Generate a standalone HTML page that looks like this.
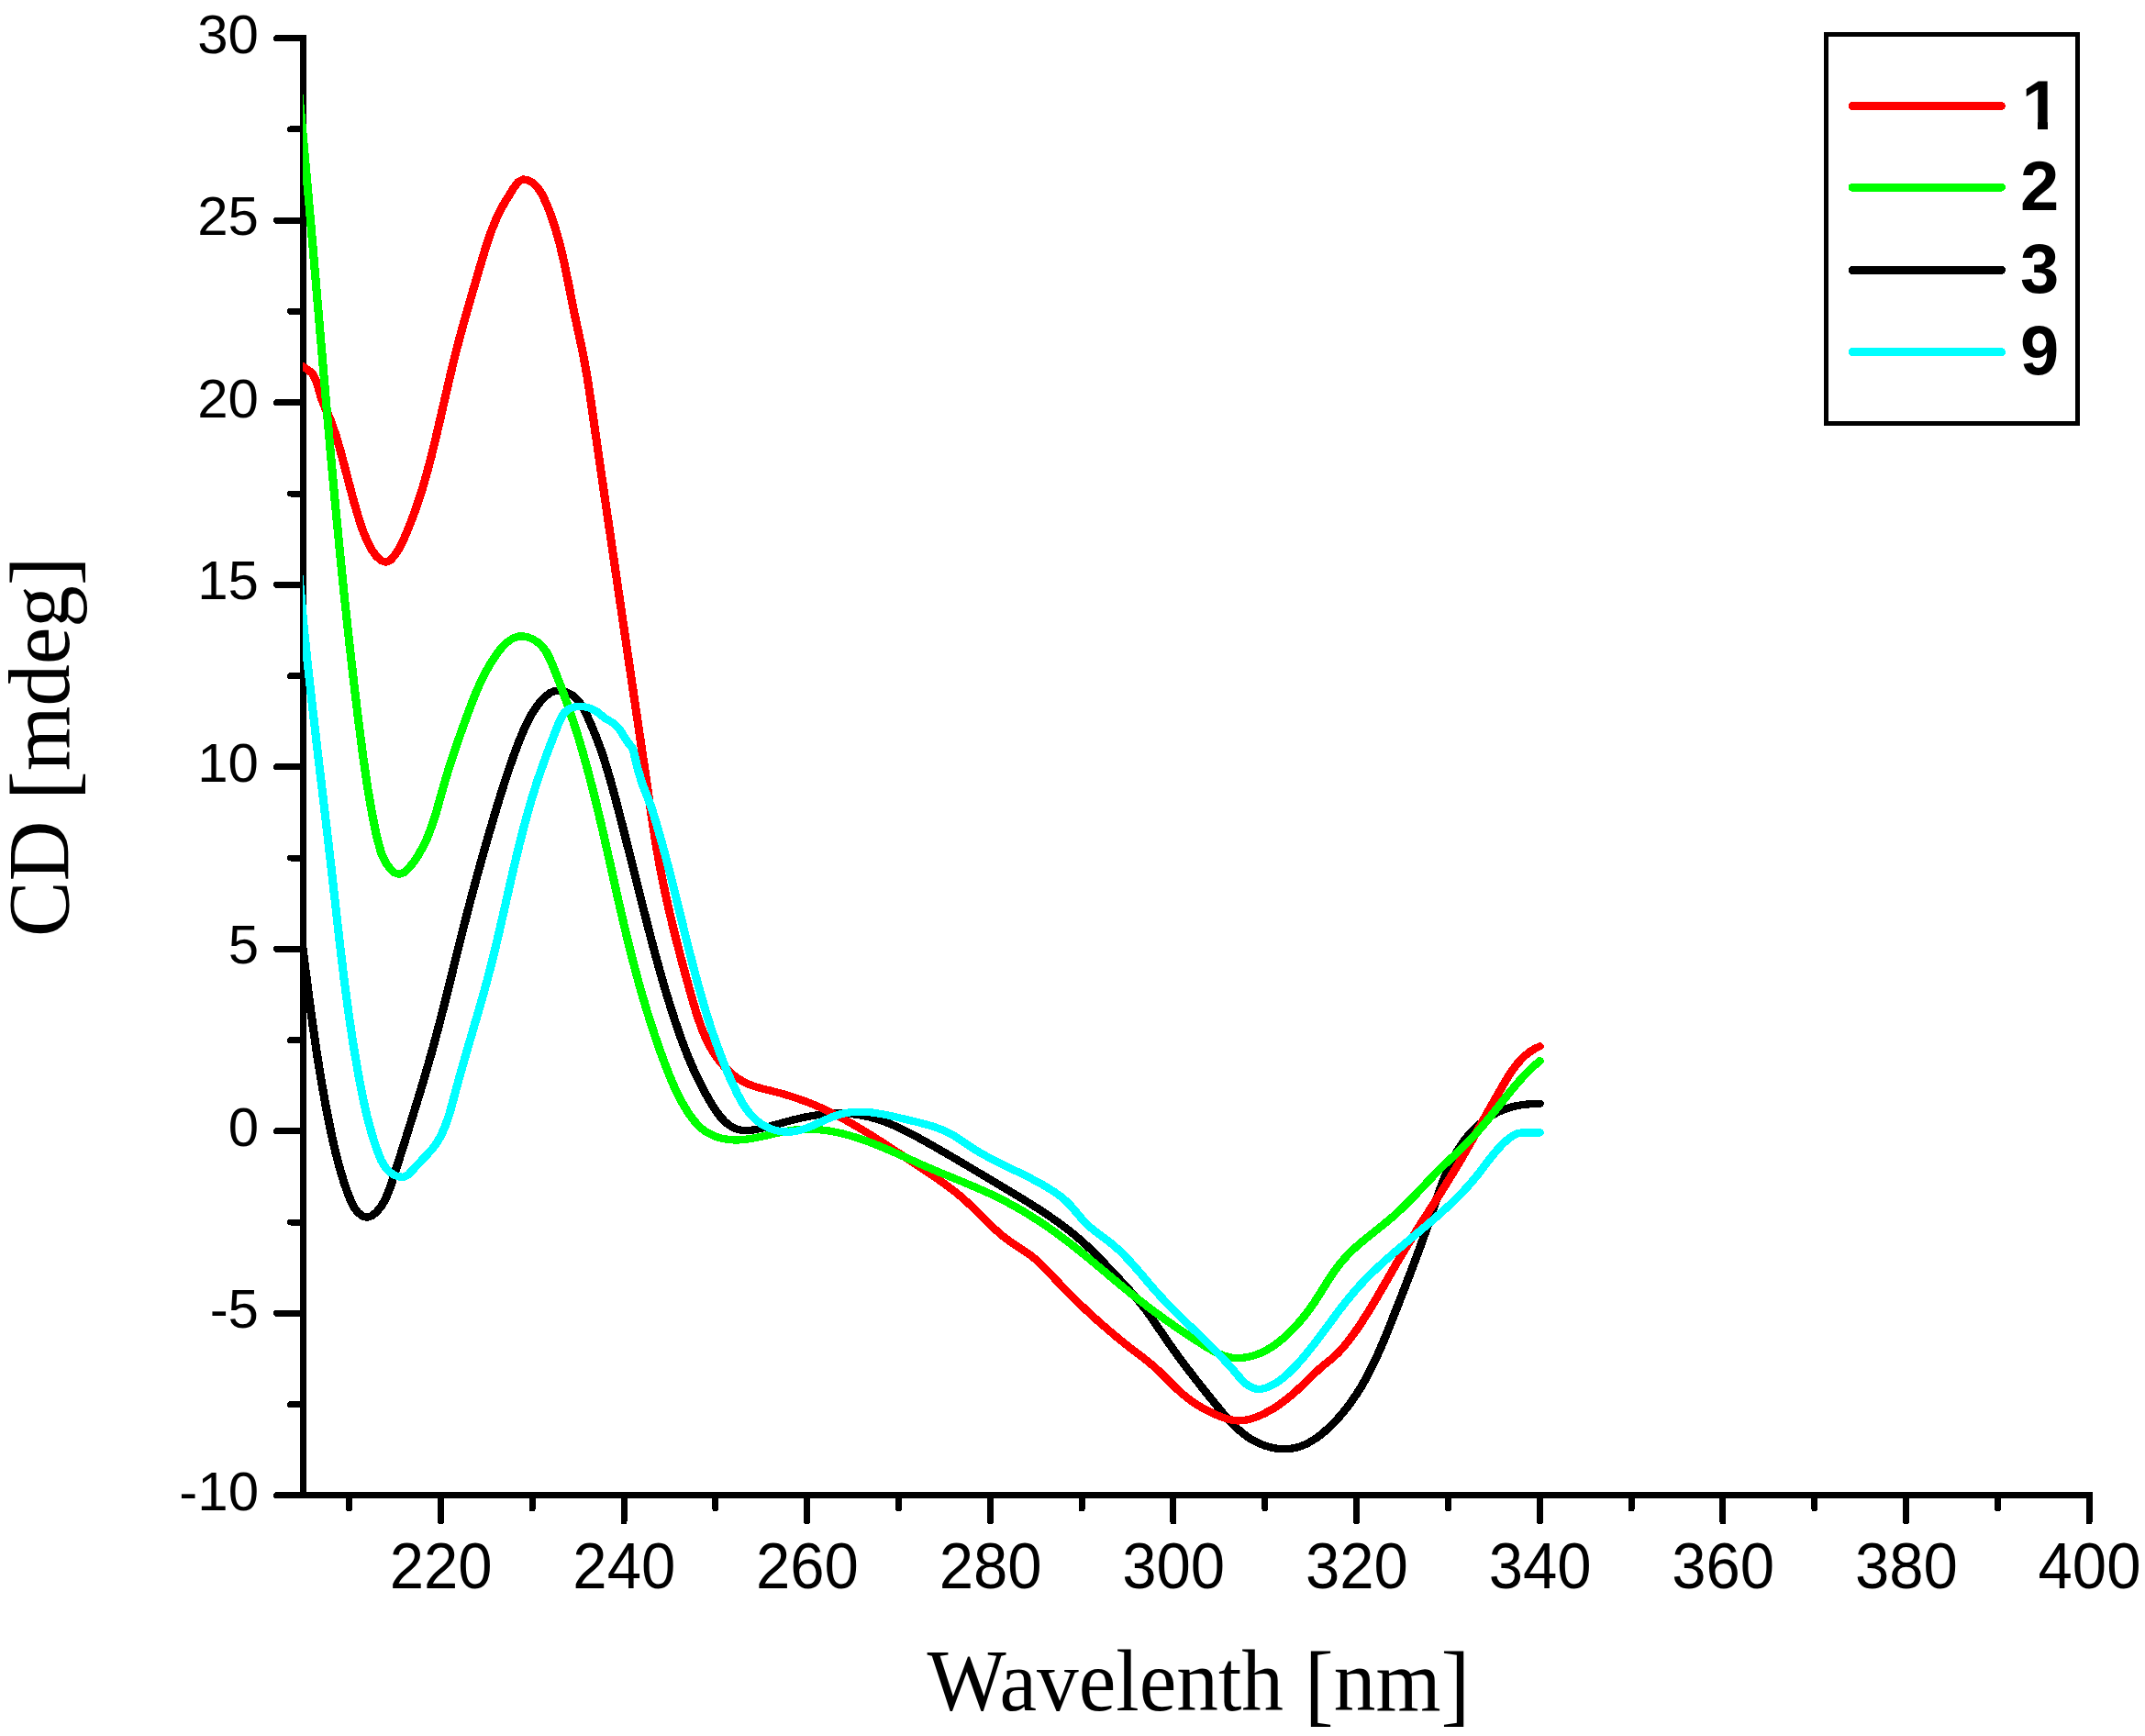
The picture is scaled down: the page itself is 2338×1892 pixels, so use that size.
<!DOCTYPE html>
<html lang="en"><head><meta charset="utf-8"><title>CD spectra</title>
<style>html,body{margin:0;padding:0;background:#fff}body{width:2338px;height:1892px;overflow:hidden}svg{display:block}.tk{font-family:"Liberation Sans",Arial,sans-serif;fill:#000}.ax{font-family:"Liberation Serif","Times New Roman",serif;fill:#000}.lg{font-family:"Liberation Sans",Arial,sans-serif;font-weight:bold;fill:#000}</style></head><body>
<svg width="2338" height="1892" viewBox="0 0 2338 1892" shape-rendering="crispEdges">
<rect width="2338" height="1892" fill="#fff"/>
<defs><clipPath id="cp"><rect x="330" y="0" width="2008" height="1892"/></clipPath></defs>
<g stroke="#000" stroke-width="7" stroke-linecap="round" fill="none"><path stroke-linecap="butt" d="M330.5 38.2 V1633.2"/><path stroke-linecap="butt" d="M327.0 1629.7 H2280.7"/><path d="M330.5 41.7 H301.5M330.5 140.9 H316.5M330.5 240.2 H301.5M330.5 339.4 H316.5M330.5 438.7 H301.5M330.5 538.0 H316.5M330.5 637.2 H301.5M330.5 736.5 H316.5M330.5 835.7 H301.5M330.5 935.0 H316.5M330.5 1034.2 H301.5M330.5 1133.5 H316.5M330.5 1232.7 H301.5M330.5 1332.0 H316.5M330.5 1431.2 H301.5M330.5 1530.5 H316.5M330.5 1629.7 H301.5M380.5 1629.7 V1644.0M480.3 1629.7 V1658.0M580.1 1629.7 V1644.0M680.0 1629.7 V1658.0M779.8 1629.7 V1644.0M879.6 1629.7 V1658.0M979.5 1629.7 V1644.0M1079.3 1629.7 V1658.0M1179.1 1629.7 V1644.0M1278.9 1629.7 V1658.0M1378.8 1629.7 V1644.0M1478.6 1629.7 V1658.0M1578.4 1629.7 V1644.0M1678.3 1629.7 V1658.0M1778.1 1629.7 V1644.0M1877.9 1629.7 V1658.0M1977.8 1629.7 V1644.0M2077.6 1629.7 V1658.0M2177.4 1629.7 V1644.0M2277.2 1629.7 V1658.0"/></g>
<text class="tk" x="282" y="57.9" font-size="60" text-anchor="end">30</text><text class="tk" x="282" y="256.4" font-size="60" text-anchor="end">25</text><text class="tk" x="282" y="454.9" font-size="60" text-anchor="end">20</text><text class="tk" x="282" y="653.4" font-size="60" text-anchor="end">15</text><text class="tk" x="282" y="851.9" font-size="60" text-anchor="end">10</text><text class="tk" x="282" y="1050.4" font-size="60" text-anchor="end">5</text><text class="tk" x="282" y="1248.9" font-size="60" text-anchor="end">0</text><text class="tk" x="282" y="1447.4" font-size="60" text-anchor="end">-5</text><text class="tk" x="282" y="1645.9" font-size="60" text-anchor="end">-10</text><text class="tk" transform="translate(480.6,1731.3) scale(0.945,1)" font-size="71" text-anchor="middle">220</text><text class="tk" transform="translate(680.3,1731.3) scale(0.945,1)" font-size="71" text-anchor="middle">240</text><text class="tk" transform="translate(879.9,1731.3) scale(0.945,1)" font-size="71" text-anchor="middle">260</text><text class="tk" transform="translate(1079.6,1731.3) scale(0.945,1)" font-size="71" text-anchor="middle">280</text><text class="tk" transform="translate(1279.2,1731.3) scale(0.945,1)" font-size="71" text-anchor="middle">300</text><text class="tk" transform="translate(1478.9,1731.3) scale(0.945,1)" font-size="71" text-anchor="middle">320</text><text class="tk" transform="translate(1678.6,1731.3) scale(0.945,1)" font-size="71" text-anchor="middle">340</text><text class="tk" transform="translate(1878.2,1731.3) scale(0.945,1)" font-size="71" text-anchor="middle">360</text><text class="tk" transform="translate(2077.9,1731.3) scale(0.945,1)" font-size="71" text-anchor="middle">380</text><text class="tk" transform="translate(2277.5,1731.3) scale(0.945,1)" font-size="71" text-anchor="middle">400</text>
<text class="ax" transform="translate(1010.5,1864.3) scale(0.962,1)" font-size="95">Wavelenth <tspan font-size="99.5" dy="4.7">[</tspan><tspan dy="-4.7">nm</tspan><tspan font-size="99.5" dy="4.7">]</tspan></text>
<text class="ax" transform="translate(74.9,1021) rotate(-90) scale(0.957,1)" font-size="95">CD <tspan font-size="99.5" dy="4.7">[</tspan><tspan dy="-4.7">mdeg</tspan><tspan font-size="99.5" dy="4.7">]</tspan></text>
<g clip-path="url(#cp)"><g transform="scale(1.1,1)" fill="none" stroke-width="8.3" stroke-linecap="round" stroke-linejoin="round"><path stroke="#000" d="M291.43 959.8L295.97 998.0L300.50 1037.8L305.04 1077.3L309.58 1114.6L314.12 1148.9L318.66 1179.8L323.19 1207.6L327.73 1232.6L332.27 1254.9L336.81 1274.0L341.34 1290.2L345.88 1304.3L350.42 1315.3L354.96 1321.8L359.49 1325.5L364.03 1326.7L368.57 1325.0L373.11 1320.9L377.65 1314.8L382.18 1306.3L386.72 1293.8L391.26 1278.4L395.80 1262.6L400.33 1246.8L404.87 1230.8L409.41 1214.8L413.95 1198.6L418.49 1182.1L423.02 1165.2L427.56 1147.7L432.10 1129.4L436.64 1110.4L441.17 1090.9L445.71 1070.9L450.25 1050.7L454.79 1030.5L459.32 1010.6L463.86 991.2L468.40 972.3L472.94 953.9L477.48 935.9L482.01 918.3L486.55 901.1L491.09 884.2L495.63 867.8L500.16 851.9L504.70 836.9L509.24 822.8L513.78 809.5L518.32 797.3L522.85 786.4L527.39 777.2L531.93 769.7L536.47 763.4L541.00 758.4L545.54 754.9L550.08 753.0L554.62 752.6L559.15 753.5L563.69 755.5L568.23 758.5L572.77 763.3L577.31 770.4L581.84 780.3L586.38 791.6L590.92 803.7L595.46 817.2L599.99 832.3L604.53 849.1L609.07 867.3L613.61 886.3L618.15 905.8L622.68 925.5L627.22 945.3L631.76 965.2L636.30 985.1L640.83 1004.7L645.37 1023.9L649.91 1042.6L654.45 1060.6L658.99 1077.9L663.52 1094.3L668.06 1109.9L672.60 1124.7L677.14 1138.5L681.67 1151.2L686.21 1163.0L690.75 1173.8L695.29 1183.9L699.82 1193.2L704.36 1201.9L708.90 1209.8L713.44 1216.6L717.98 1222.1L722.51 1226.3L727.05 1229.2L731.59 1231.1L736.13 1232.0L740.66 1232.1L745.20 1231.6L749.74 1230.8L754.28 1229.7L758.81 1228.5L763.35 1227.3L767.89 1225.9L772.43 1224.6L776.97 1223.2L781.50 1221.8L786.04 1220.5L790.58 1219.3L795.12 1218.1L799.65 1217.1L804.19 1216.2L808.73 1215.4L813.27 1214.7L817.81 1214.2L822.34 1213.8L826.88 1213.6L831.42 1213.5L835.96 1213.6L840.49 1213.9L845.03 1214.3L849.57 1214.9L854.11 1215.7L858.64 1216.7L863.18 1217.9L867.72 1219.3L872.26 1220.9L876.80 1222.7L881.33 1224.6L885.87 1226.7L890.41 1229.0L894.95 1231.3L899.48 1233.8L904.02 1236.4L908.56 1239.1L913.10 1241.8L917.64 1244.6L922.17 1247.4L926.71 1250.2L931.25 1253.1L935.79 1256.0L940.32 1258.9L944.86 1261.8L949.40 1264.7L953.94 1267.7L958.47 1270.6L963.01 1273.6L967.55 1276.6L972.09 1279.5L976.63 1282.5L981.16 1285.5L985.70 1288.5L990.24 1291.4L994.78 1294.4L999.31 1297.4L1003.85 1300.4L1008.39 1303.4L1012.93 1306.4L1017.47 1309.5L1022.00 1312.6L1026.54 1315.8L1031.08 1319.0L1035.62 1322.3L1040.15 1325.7L1044.69 1329.2L1049.23 1332.8L1053.77 1336.5L1058.31 1340.3L1062.84 1344.2L1067.38 1348.4L1071.92 1352.7L1076.46 1357.2L1080.99 1361.9L1085.53 1366.9L1090.07 1372.0L1094.61 1377.2L1099.14 1382.5L1103.68 1387.8L1108.22 1393.1L1112.76 1398.4L1117.30 1403.9L1121.83 1409.5L1126.37 1415.2L1130.91 1421.3L1135.45 1427.7L1139.98 1434.5L1144.52 1441.8L1149.06 1449.2L1153.60 1456.6L1158.13 1463.8L1162.67 1470.9L1167.21 1477.8L1171.75 1484.5L1176.29 1491.1L1180.82 1497.6L1185.36 1504.1L1189.90 1510.4L1194.44 1516.7L1198.97 1522.9L1203.51 1529.1L1208.05 1535.2L1212.59 1541.2L1217.13 1546.9L1221.66 1552.2L1226.20 1557.1L1230.74 1561.4L1235.28 1565.3L1239.81 1568.6L1244.35 1571.4L1248.89 1573.7L1253.43 1575.6L1257.96 1577.1L1262.50 1578.2L1267.04 1578.9L1271.58 1579.2L1276.12 1579.1L1280.65 1578.5L1285.19 1577.5L1289.73 1575.9L1294.27 1573.8L1298.80 1571.1L1303.34 1568.0L1307.88 1564.4L1312.42 1560.3L1316.96 1555.8L1321.49 1550.9L1326.03 1545.5L1330.57 1539.8L1335.11 1533.5L1339.64 1526.8L1344.18 1519.4L1348.72 1511.4L1353.26 1502.7L1357.80 1493.3L1362.33 1483.1L1366.87 1472.1L1371.41 1460.5L1375.95 1448.2L1380.48 1435.6L1385.02 1422.9L1389.56 1410.1L1394.10 1397.3L1398.63 1384.2L1403.17 1371.0L1407.71 1357.4L1412.25 1343.5L1416.79 1329.0L1421.32 1314.1L1425.86 1299.4L1430.40 1285.9L1434.94 1273.9L1439.47 1263.5L1444.01 1254.5L1448.55 1246.7L1453.09 1240.0L1457.62 1234.2L1462.16 1229.1L1466.70 1224.7L1471.24 1220.8L1475.78 1217.4L1480.31 1214.4L1484.85 1211.8L1489.39 1209.6L1493.93 1207.8L1498.46 1206.3L1503.00 1205.1L1507.54 1204.3L1512.08 1203.7L1516.62 1203.2L1521.15 1202.9L1525.69 1202.8"/><path stroke="#f00" d="M291.43 393.3L295.97 396.7L300.50 399.8L305.04 403.0L309.58 407.1L314.12 417.4L318.66 435.0L323.19 446.8L327.73 458.5L332.27 472.5L336.81 489.3L341.34 507.9L345.88 527.2L350.42 545.9L354.96 563.0L359.49 578.1L364.03 590.2L368.57 599.6L373.11 606.4L377.65 610.9L382.18 612.7L386.72 610.7L391.26 605.1L395.80 597.2L400.33 587.1L404.87 575.3L409.41 562.4L413.95 548.3L418.49 532.7L423.02 515.5L427.56 496.6L432.10 476.1L436.64 454.6L441.17 432.7L445.71 411.1L450.25 390.4L454.79 371.0L459.32 352.7L463.86 335.1L468.40 317.9L472.94 300.8L477.48 283.6L482.01 267.2L486.55 252.6L491.09 240.2L495.63 229.6L500.16 220.5L504.70 212.5L509.24 204.3L513.78 197.9L518.32 195.5L522.85 196.2L527.39 198.9L531.93 203.4L536.47 210.4L541.00 220.8L545.54 233.3L550.08 248.1L554.62 265.7L559.15 286.8L563.69 311.3L568.23 336.8L572.77 360.3L577.31 383.4L581.84 410.3L586.38 443.9L590.92 478.8L595.46 513.3L599.99 547.5L604.53 581.6L609.07 615.7L613.61 649.8L618.15 683.8L622.68 717.7L627.22 751.6L631.76 785.3L636.30 819.0L640.83 852.9L645.37 887.4L649.91 919.8L654.45 947.9L658.99 972.5L663.52 994.8L668.06 1015.5L672.60 1035.1L677.14 1053.9L681.67 1072.1L686.21 1089.9L690.75 1106.5L695.29 1120.8L699.82 1132.6L704.36 1142.2L708.90 1150.3L713.44 1157.1L717.98 1162.8L722.51 1167.7L727.05 1172.0L731.59 1175.6L736.13 1178.6L740.66 1181.1L745.20 1183.1L749.74 1184.7L754.28 1186.1L758.81 1187.4L763.35 1188.6L767.89 1189.9L772.43 1191.2L776.97 1192.6L781.50 1194.1L786.04 1195.7L790.58 1197.4L795.12 1199.2L799.65 1201.0L804.19 1203.0L808.73 1205.0L813.27 1207.2L817.81 1209.5L822.34 1211.9L826.88 1214.4L831.42 1216.9L835.96 1219.6L840.49 1222.4L845.03 1225.2L849.57 1228.1L854.11 1231.1L858.64 1234.1L863.18 1237.2L867.72 1240.4L872.26 1243.6L876.80 1246.8L881.33 1250.0L885.87 1253.3L890.41 1256.6L894.95 1259.9L899.48 1263.3L904.02 1266.6L908.56 1269.9L913.10 1273.2L917.64 1276.5L922.17 1279.8L926.71 1283.2L931.25 1286.6L935.79 1290.1L940.32 1293.8L944.86 1297.6L949.40 1301.6L953.94 1305.8L958.47 1310.3L963.01 1315.0L967.55 1319.9L972.09 1324.9L976.63 1329.9L981.16 1334.8L985.70 1339.5L990.24 1343.9L994.78 1348.1L999.31 1351.9L1003.85 1355.4L1008.39 1358.7L1012.93 1361.9L1017.47 1365.2L1022.00 1368.8L1026.54 1372.8L1031.08 1377.4L1035.62 1382.4L1040.15 1387.6L1044.69 1393.0L1049.23 1398.3L1053.77 1403.5L1058.31 1408.6L1062.84 1413.6L1067.38 1418.5L1071.92 1423.3L1076.46 1428.0L1080.99 1432.6L1085.53 1437.2L1090.07 1441.7L1094.61 1446.0L1099.14 1450.3L1103.68 1454.5L1108.22 1458.7L1112.76 1462.7L1117.30 1466.7L1121.83 1470.6L1126.37 1474.4L1130.91 1478.2L1135.45 1482.0L1139.98 1486.1L1144.52 1490.3L1149.06 1495.0L1153.60 1499.9L1158.13 1505.0L1162.67 1510.0L1167.21 1514.8L1171.75 1519.2L1176.29 1523.3L1180.82 1527.0L1185.36 1530.4L1189.90 1533.5L1194.44 1536.4L1198.97 1538.9L1203.51 1541.2L1208.05 1543.3L1212.59 1545.1L1217.13 1546.7L1221.66 1547.8L1226.20 1548.4L1230.74 1548.3L1235.28 1547.5L1239.81 1546.3L1244.35 1544.6L1248.89 1542.6L1253.43 1540.2L1257.96 1537.5L1262.50 1534.6L1267.04 1531.3L1271.58 1527.7L1276.12 1523.8L1280.65 1519.7L1285.19 1515.3L1289.73 1510.6L1294.27 1505.8L1298.80 1500.9L1303.34 1496.1L1307.88 1491.5L1312.42 1487.2L1316.96 1483.2L1321.49 1479.1L1326.03 1474.3L1330.57 1468.9L1335.11 1462.9L1339.64 1456.3L1344.18 1449.4L1348.72 1442.0L1353.26 1434.3L1357.80 1426.2L1362.33 1417.9L1366.87 1409.4L1371.41 1400.7L1375.95 1392.0L1380.48 1383.2L1385.02 1374.7L1389.56 1366.3L1394.10 1358.0L1398.63 1350.0L1403.17 1342.0L1407.71 1334.1L1412.25 1326.3L1416.79 1318.5L1421.32 1310.7L1425.86 1302.8L1430.40 1294.9L1434.94 1286.9L1439.47 1278.8L1444.01 1270.5L1448.55 1262.0L1453.09 1253.4L1457.62 1244.6L1462.16 1235.7L1466.70 1226.8L1471.24 1217.9L1475.78 1209.0L1480.31 1200.1L1484.85 1191.3L1489.39 1182.7L1493.93 1174.3L1498.46 1166.6L1503.00 1159.9L1507.54 1154.3L1512.08 1149.6L1516.62 1145.8L1521.15 1142.8L1525.69 1140.4"/><path stroke="#0f0" d="M291.43 49.2L295.97 99.1L300.50 151.7L305.04 206.8L309.58 263.7L314.12 322.0L318.66 380.6L323.19 438.7L327.73 495.3L332.27 549.9L336.81 602.0L341.34 651.4L345.88 698.0L350.42 742.0L354.96 783.4L359.49 822.3L364.03 856.9L368.57 886.1L373.11 910.9L377.65 929.4L382.18 940.1L386.72 947.1L391.26 951.4L395.80 952.8L400.33 950.9L404.87 946.4L409.41 940.2L413.95 933.0L418.49 924.3L423.02 914.0L427.56 901.3L432.10 885.8L436.64 868.1L441.17 850.4L445.71 834.1L450.25 819.0L454.79 804.5L459.32 790.6L463.86 776.9L468.40 763.7L472.94 751.4L477.48 740.5L482.01 730.8L486.55 722.2L491.09 714.5L495.63 707.8L500.16 702.3L504.70 698.1L509.24 695.2L513.78 693.6L518.32 693.4L522.85 694.3L527.39 696.3L531.93 699.3L536.47 703.5L541.00 709.7L545.54 719.7L550.08 731.9L554.62 744.7L559.15 758.0L563.69 772.0L568.23 786.8L572.77 802.5L577.31 819.3L581.84 837.1L586.38 856.1L590.92 876.1L595.46 897.0L599.99 918.8L604.53 941.0L609.07 963.4L613.61 985.5L618.15 1007.1L622.68 1027.9L627.22 1047.7L631.76 1066.4L636.30 1084.2L640.83 1101.0L645.37 1116.9L649.91 1132.0L654.45 1146.3L658.99 1159.9L663.52 1172.7L668.06 1184.4L672.60 1194.8L677.14 1204.1L681.67 1212.2L686.21 1219.4L690.75 1225.3L695.29 1230.0L699.82 1233.6L704.36 1236.4L708.90 1238.6L713.44 1240.2L717.98 1241.3L722.51 1242.0L727.05 1242.4L731.59 1242.4L736.13 1242.1L740.66 1241.5L745.20 1240.8L749.74 1239.8L754.28 1238.8L758.81 1237.7L763.35 1236.5L767.89 1235.4L772.43 1234.3L776.97 1233.3L781.50 1232.4L786.04 1231.7L790.58 1231.2L795.12 1230.8L799.65 1230.7L804.19 1230.8L808.73 1231.0L813.27 1231.4L817.81 1232.0L822.34 1232.7L826.88 1233.6L831.42 1234.6L835.96 1235.8L840.49 1237.1L845.03 1238.6L849.57 1240.1L854.11 1241.8L858.64 1243.6L863.18 1245.4L867.72 1247.4L872.26 1249.4L876.80 1251.5L881.33 1253.6L885.87 1255.8L890.41 1258.0L894.95 1260.2L899.48 1262.5L904.02 1264.7L908.56 1267.0L913.10 1269.2L917.64 1271.4L922.17 1273.6L926.71 1275.7L931.25 1277.8L935.79 1279.9L940.32 1281.9L944.86 1284.0L949.40 1286.0L953.94 1288.1L958.47 1290.2L963.01 1292.3L967.55 1294.4L972.09 1296.6L976.63 1298.8L981.16 1301.1L985.70 1303.5L990.24 1305.9L994.78 1308.5L999.31 1311.1L1003.85 1313.8L1008.39 1316.6L1012.93 1319.5L1017.47 1322.5L1022.00 1325.6L1026.54 1328.8L1031.08 1332.0L1035.62 1335.4L1040.15 1338.8L1044.69 1342.3L1049.23 1345.9L1053.77 1349.6L1058.31 1353.4L1062.84 1357.3L1067.38 1361.3L1071.92 1365.3L1076.46 1369.3L1080.99 1373.5L1085.53 1377.6L1090.07 1381.8L1094.61 1386.0L1099.14 1390.2L1103.68 1394.4L1108.22 1398.5L1112.76 1402.7L1117.30 1406.7L1121.83 1410.8L1126.37 1414.7L1130.91 1418.6L1135.45 1422.5L1139.98 1426.3L1144.52 1430.0L1149.06 1433.7L1153.60 1437.3L1158.13 1440.8L1162.67 1444.3L1167.21 1447.8L1171.75 1451.2L1176.29 1454.5L1180.82 1457.8L1185.36 1461.0L1189.90 1464.2L1194.44 1467.4L1198.97 1470.4L1203.51 1473.1L1208.05 1475.5L1212.59 1477.5L1217.13 1478.9L1221.66 1479.8L1226.20 1480.1L1230.74 1479.8L1235.28 1479.2L1239.81 1478.1L1244.35 1476.6L1248.89 1474.7L1253.43 1472.3L1257.96 1469.5L1262.50 1466.3L1267.04 1462.6L1271.58 1458.5L1276.12 1453.9L1280.65 1449.0L1285.19 1443.7L1289.73 1438.0L1294.27 1431.9L1298.80 1425.2L1303.34 1417.8L1307.88 1410.0L1312.42 1402.0L1316.96 1394.1L1321.49 1386.6L1326.03 1379.7L1330.57 1373.6L1335.11 1368.1L1339.64 1363.1L1344.18 1358.5L1348.72 1354.2L1353.26 1350.0L1357.80 1346.0L1362.33 1342.0L1366.87 1338.1L1371.41 1334.0L1375.95 1329.9L1380.48 1325.7L1385.02 1321.2L1389.56 1316.5L1394.10 1311.6L1398.63 1306.6L1403.17 1301.4L1407.71 1296.1L1412.25 1290.8L1416.79 1285.5L1421.32 1280.3L1425.86 1275.2L1430.40 1270.3L1434.94 1265.5L1439.47 1260.8L1444.01 1256.0L1448.55 1251.2L1453.09 1246.3L1457.62 1241.3L1462.16 1235.9L1466.70 1230.3L1471.24 1224.4L1475.78 1218.3L1480.31 1212.1L1484.85 1205.8L1489.39 1199.5L1493.93 1193.2L1498.46 1187.1L1503.00 1181.2L1507.54 1175.6L1512.08 1170.3L1516.62 1165.3L1521.15 1160.6L1525.69 1156.3"/><path stroke="#0ff" d="M291.43 554.4L295.97 622.6L300.50 677.1L305.04 725.4L309.58 770.3L314.12 813.3L318.66 855.5L323.19 897.6L327.73 940.6L332.27 985.0L336.81 1029.2L341.34 1070.5L345.88 1107.8L350.42 1140.8L354.96 1170.1L359.49 1196.0L364.03 1218.1L368.57 1236.4L373.11 1251.8L377.65 1264.5L382.18 1272.9L386.72 1277.9L391.26 1281.0L395.80 1282.6L400.33 1282.7L404.87 1279.9L409.41 1274.6L413.95 1269.1L418.49 1263.8L423.02 1258.7L427.56 1253.2L432.10 1246.7L436.64 1238.4L441.17 1227.4L445.71 1212.6L450.25 1194.2L454.79 1175.6L459.32 1157.9L463.86 1140.7L468.40 1123.7L472.94 1106.7L477.48 1089.3L482.01 1071.4L486.55 1052.3L491.09 1032.1L495.63 1010.8L500.16 988.9L504.70 966.8L509.24 945.1L513.78 924.2L518.32 904.4L522.85 886.0L527.39 868.8L531.93 852.9L536.47 838.2L541.00 824.4L545.54 811.1L550.08 798.1L554.62 785.3L559.15 776.7L563.69 772.6L568.23 770.7L572.77 769.9L577.31 770.0L581.84 770.9L586.38 772.6L590.92 775.2L595.46 779.2L599.99 783.2L604.53 786.0L609.07 789.2L613.61 794.4L618.15 802.4L622.68 809.8L627.22 816.2L631.76 837.3L636.30 854.0L640.83 866.5L645.37 879.6L649.91 895.6L654.45 912.9L658.99 931.1L663.52 950.2L668.06 970.0L672.60 990.3L677.14 1010.6L681.67 1030.7L686.21 1050.3L690.75 1069.1L695.29 1087.1L699.82 1104.0L704.36 1119.8L708.90 1134.5L713.44 1148.2L717.98 1160.9L722.51 1172.8L727.05 1183.8L731.59 1194.1L736.13 1203.1L740.66 1210.5L745.20 1216.4L749.74 1221.2L754.28 1224.9L758.81 1227.8L763.35 1230.0L767.89 1231.7L772.43 1232.9L776.97 1233.5L781.50 1233.7L786.04 1233.3L790.58 1232.4L795.12 1231.0L799.65 1229.3L804.19 1227.3L808.73 1225.1L813.27 1222.8L817.81 1220.5L822.34 1218.4L826.88 1216.4L831.42 1214.8L835.96 1213.5L840.49 1212.6L845.03 1212.0L849.57 1211.8L854.11 1211.8L858.64 1212.0L863.18 1212.4L867.72 1213.1L872.26 1213.9L876.80 1214.8L881.33 1215.8L885.87 1216.9L890.41 1218.1L894.95 1219.3L899.48 1220.5L904.02 1221.7L908.56 1222.9L913.10 1224.2L917.64 1225.5L922.17 1226.9L926.71 1228.5L931.25 1230.3L935.79 1232.4L940.32 1234.8L944.86 1237.5L949.40 1240.7L953.94 1244.0L958.47 1247.5L963.01 1250.8L967.55 1253.9L972.09 1256.8L976.63 1259.6L981.16 1262.3L985.70 1264.9L990.24 1267.4L994.78 1269.9L999.31 1272.3L1003.85 1274.7L1008.39 1277.1L1012.93 1279.6L1017.47 1282.0L1022.00 1284.6L1026.54 1287.2L1031.08 1289.9L1035.62 1292.8L1040.15 1295.8L1044.69 1299.0L1049.23 1302.5L1053.77 1306.4L1058.31 1311.0L1062.84 1316.4L1067.38 1322.4L1071.92 1328.3L1076.46 1333.7L1080.99 1338.2L1085.53 1342.2L1090.07 1346.0L1094.61 1349.6L1099.14 1353.4L1103.68 1357.5L1108.22 1361.9L1112.76 1366.7L1117.30 1371.9L1121.83 1377.3L1126.37 1383.0L1130.91 1388.8L1135.45 1394.7L1139.98 1400.6L1144.52 1406.3L1149.06 1411.9L1153.60 1417.2L1158.13 1422.4L1162.67 1427.5L1167.21 1432.4L1171.75 1437.3L1176.29 1442.2L1180.82 1447.0L1185.36 1451.7L1189.90 1456.6L1194.44 1461.4L1198.97 1466.3L1203.51 1471.3L1208.05 1476.3L1212.59 1481.6L1217.13 1487.0L1221.66 1492.6L1226.20 1498.5L1230.74 1504.3L1235.28 1508.9L1239.81 1511.9L1244.35 1513.7L1248.89 1514.0L1253.43 1513.0L1257.96 1511.1L1262.50 1508.6L1267.04 1505.4L1271.58 1501.6L1276.12 1497.3L1280.65 1492.4L1285.19 1487.2L1289.73 1481.6L1294.27 1475.7L1298.80 1469.5L1303.34 1463.1L1307.88 1456.5L1312.42 1449.8L1316.96 1443.1L1321.49 1436.3L1326.03 1429.6L1330.57 1423.1L1335.11 1416.8L1339.64 1410.7L1344.18 1404.9L1348.72 1399.4L1353.26 1394.1L1357.80 1389.1L1362.33 1384.3L1366.87 1379.6L1371.41 1375.0L1375.95 1370.6L1380.48 1366.2L1385.02 1361.9L1389.56 1357.7L1394.10 1353.5L1398.63 1349.3L1403.17 1345.1L1407.71 1340.9L1412.25 1336.7L1416.79 1332.5L1421.32 1328.2L1425.86 1323.8L1430.40 1319.3L1434.94 1314.7L1439.47 1310.0L1444.01 1305.1L1448.55 1300.0L1453.09 1294.7L1457.62 1289.1L1462.16 1283.2L1466.70 1276.9L1471.24 1270.3L1475.78 1263.7L1480.31 1257.4L1484.85 1251.6L1489.39 1246.4L1493.93 1241.8L1498.46 1238.1L1503.00 1235.5L1507.54 1234.5L1512.08 1234.4L1516.62 1234.4L1521.15 1234.4L1525.69 1234.4"/></g></g>
<rect x="1990.3" y="37.1" width="274.4" height="424.2" fill="#fff" stroke="#000" stroke-width="5"/>
<g stroke-width="9" stroke-linecap="round" fill="none"><path stroke="#f00" d="M2019 115.5 H2181.5"/><path stroke="#0f0" d="M2019 204.2 H2181.5"/><path stroke="#000" d="M2019 294.4 H2181.5"/><path stroke="#0ff" d="M2019 383.6 H2181.5"/></g><clipPath id="c1"><path d="M2190 60H2260V132H2232V146H2221V132H2190Z"/></clipPath><text class="lg" x="2203.5" y="141.0" font-size="76" clip-path="url(#c1)">1</text><text class="lg" x="2202" y="229.0" font-size="76">2</text><text class="lg" x="2202" y="318.7" font-size="76">3</text><text class="lg" x="2202" y="408.0" font-size="76">9</text>
</svg></body></html>
